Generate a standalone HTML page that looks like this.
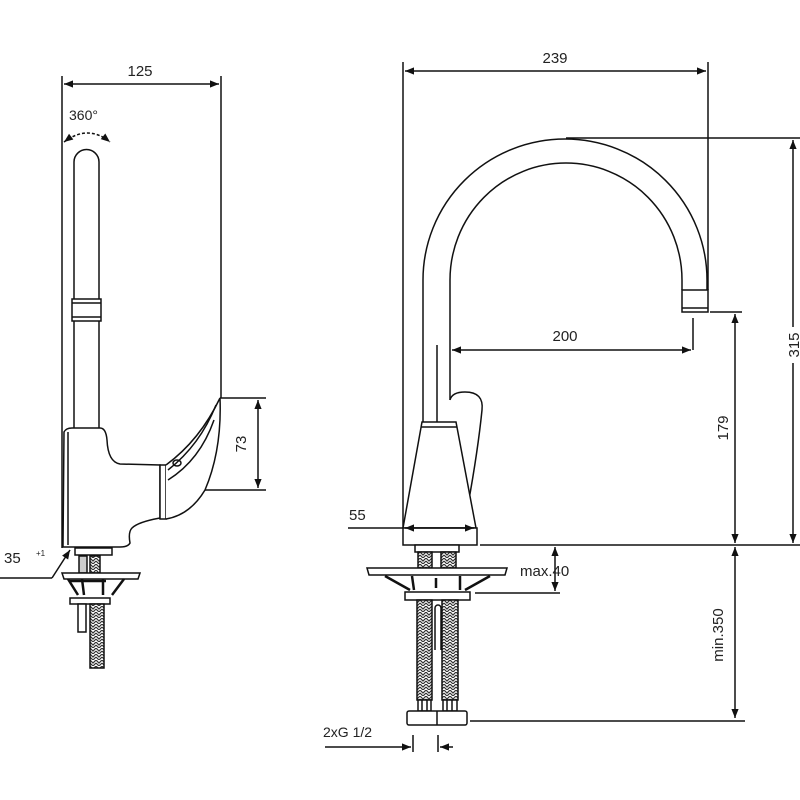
<!DOCTYPE html>
<html><head><meta charset="utf-8"><style>
html,body{margin:0;padding:0;background:#fff}
svg{display:block}
text{font-family:"Liberation Sans",Arial,sans-serif;fill:#222}
</style></head><body>
<svg width="800" height="800" viewBox="0 0 800 800" xmlns="http://www.w3.org/2000/svg">
<defs>
<marker id="a" viewBox="0 0 10 10" refX="10" refY="5" markerWidth="8" markerHeight="6" orient="auto-start-reverse"><path d="M0,1 L10,5 L0,9 Z" fill="#111"/></marker>
<pattern id="br" width="6" height="6" patternUnits="userSpaceOnUse"><rect width="6" height="6" fill="#fff"/><path d="M0,0 L3,3 L6,0 M0,3 L3,6 L6,3" stroke="#333" stroke-width="1.2" fill="none"/></pattern>
</defs>
<g stroke="#111" stroke-width="1.5" fill="none">
<!-- LEFT VIEW -->
<line x1="62" y1="76" x2="62" y2="548"/>
<line x1="221" y1="76" x2="221" y2="398"/>
<line x1="64" y1="84" x2="219" y2="84" marker-start="url(#a)" marker-end="url(#a)"/>
<path d="M64,142 Q88,124 110,142" stroke-dasharray="3,2" marker-start="url(#a)" marker-end="url(#a)"/>
<path d="M74,428 L74,162 A12.5,12.5 0 0 1 99,162 L99,428"/>
<rect x="72" y="299" width="29" height="22" fill="#fff"/>
<line x1="72" y1="303" x2="101" y2="303"/><line x1="72" y1="317" x2="101" y2="317"/>
<path d="M63,547 L64,432 Q66,428 72,428 L100,428 Q106,428 107,440 Q108,462 120,464 L160,465 L160,518 Q138,522 132,528 Q128,532 130,543 Q128,547 120,547 Z" fill="#fff"/>
<path d="M68,432 L68,545"/>
<rect x="160" y="465" width="6" height="54" fill="#fff"/>
<path d="M166,465 Q200,440 220,398 Q222,450 205,490 Q190,515 166,519" fill="#fff"/>
<path d="M168,470 Q200,445 216,405"/>
<path d="M168,480 Q200,460 214,420"/>
<ellipse cx="177" cy="463" rx="4" ry="3"/>
<line x1="220" y1="398" x2="266" y2="398"/>
<line x1="205" y1="490" x2="266" y2="490"/>
<line x1="258" y1="400" x2="258" y2="488" marker-start="url(#a)" marker-end="url(#a)"/>
<line x1="0" y1="578" x2="52" y2="578"/>
<line x1="52" y1="578" x2="70" y2="550" marker-end="url(#a)"/>
<rect x="75" y="548" width="37" height="7" fill="#fff"/>
<rect x="79" y="556" width="8" height="17" fill="#ccc"/>
<rect x="90" y="556" width="10" height="17" fill="url(#br)"/>
<path d="M62,573 L140,573 L138,579 L64,579 Z" fill="#fff"/>
<path d="M68,579 L78,595 M82,579 L84,595 M103,579 L103,595 M124,579 L112,595 M70,581 L106,581" stroke-width="2.5"/>
<rect x="70" y="598" width="40" height="6" fill="#fff"/>
<rect x="78" y="604" width="8" height="28" fill="#fff"/>
<rect x="90" y="604" width="14" height="64" fill="url(#br)"/>
<!-- RIGHT VIEW -->
<line x1="403" y1="62" x2="403" y2="528"/>
<line x1="708" y1="62" x2="708" y2="290"/>
<line x1="405" y1="71" x2="706" y2="71" marker-start="url(#a)" marker-end="url(#a)"/>
<path d="M423,422 L423,280 A142,141 0 0 1 707,280 L707,290"/>
<path d="M450,400 L450,280 A116,117 0 0 1 682,280 L682,290"/>
<rect x="682" y="290" width="26" height="22" fill="#fff"/>
<line x1="682" y1="308" x2="708" y2="308"/>
<line x1="437" y1="345" x2="437" y2="422"/>
<line x1="566" y1="138" x2="800" y2="138"/>
<line x1="710" y1="312" x2="742" y2="312"/>
<line x1="693" y1="318" x2="693" y2="350"/>
<line x1="452" y1="350" x2="691" y2="350" marker-start="url(#a)" marker-end="url(#a)"/>
<path d="M450,400 Q452,392 465,392 Q484,392 482,410 Q478,450 468,505" fill="#fff"/>
<path d="M422,422 L456,422 L476,528 L403,528 Z" fill="#fff"/>
<line x1="421" y1="427" x2="457" y2="427"/>
<rect x="403" y="528" width="74" height="17" fill="#fff"/>
<line x1="348" y1="528" x2="403" y2="528"/>
<line x1="405" y1="528" x2="474" y2="528" marker-start="url(#a)" marker-end="url(#a)"/>
<line x1="480" y1="545" x2="800" y2="545"/>
<line x1="793" y1="140" x2="793" y2="543" marker-start="url(#a)" marker-end="url(#a)"/>
<line x1="735" y1="314" x2="735" y2="543" marker-start="url(#a)" marker-end="url(#a)"/>
<line x1="735" y1="547" x2="735" y2="718" marker-start="url(#a)" marker-end="url(#a)"/>
<line x1="555" y1="547" x2="555" y2="591" marker-start="url(#a)" marker-end="url(#a)"/>
<line x1="475" y1="593" x2="560" y2="593"/>
<line x1="470" y1="721" x2="745" y2="721"/>
<rect x="415" y="545" width="44" height="7" fill="#fff"/>
<rect x="418" y="552" width="14" height="16" fill="url(#br)"/>
<rect x="441" y="552" width="15" height="16" fill="url(#br)"/>
<path d="M367,568 L507,568 L505,575 L369,575 Z" fill="#fff"/>
<path d="M385,576 L410,590 M412,576 L414,590 M436,578 L436,588 M460,576 L460,590 M490,576 L465,590" stroke-width="2.5"/>
<rect x="405" y="592" width="65" height="8" fill="#fff"/>
<rect x="417" y="600" width="15" height="100" fill="url(#br)"/>
<rect x="442" y="600" width="16" height="100" fill="url(#br)"/>
<path d="M435,650 L435,608 A3,3 0 0 1 441,608 L441,650"/>
<rect x="418" y="700" width="13" height="11" fill="#fff"/>
<rect x="443" y="700" width="14" height="11" fill="#fff"/>
<path d="M422,700 V711 M427,700 V711 M447,700 V711 M452,700 V711"/>
<rect x="407" y="711" width="60" height="14" rx="2" fill="#fff"/>
<line x1="437" y1="711" x2="437" y2="725"/>
<line x1="413" y1="735" x2="413" y2="752"/>
<line x1="438" y1="735" x2="438" y2="752"/>
<line x1="325" y1="747" x2="411" y2="747" marker-end="url(#a)"/>
<line x1="453" y1="747" x2="440" y2="747" marker-end="url(#a)"/>
</g>
<rect x="786" y="327" width="14" height="36" fill="#fff"/>
<text x="140" y="76" font-size="15" text-anchor="middle">125</text>
<text x="69" y="120" font-size="14">360°</text>
<text transform="translate(246,444) rotate(-90)" font-size="15" text-anchor="middle">73</text>
<text x="4" y="563" font-size="15">35</text>
<text x="36" y="556" font-size="8">+1</text>
<text x="555" y="63" font-size="15" text-anchor="middle">239</text>
<text x="565" y="341" font-size="15" text-anchor="middle">200</text>
<text transform="translate(799,345) rotate(-90)" font-size="15" text-anchor="middle">315</text>
<text transform="translate(728,428) rotate(-90)" font-size="15" text-anchor="middle">179</text>
<text transform="translate(723,635) rotate(-90)" font-size="15" text-anchor="middle">min.350</text>
<text x="520" y="576" font-size="15">max.40</text>
<text x="349" y="520" font-size="15">55</text>
<text x="323" y="737" font-size="14">2xG 1/2</text>
</svg>
</body></html>
